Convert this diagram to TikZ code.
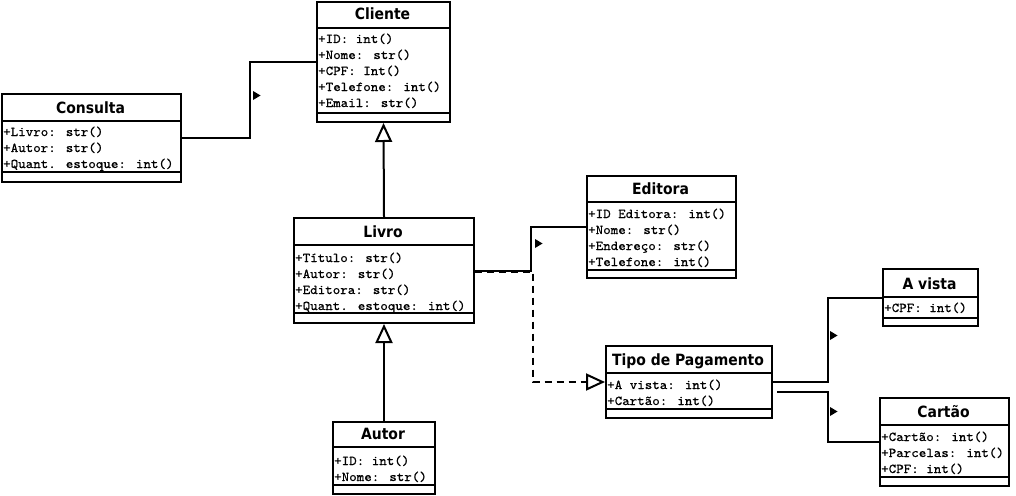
\documentclass[tikz,border=0pt]{standalone}
\usepackage{fontspec}
\newfontfamily\titlefont{DejaVu Sans}[FakeStretch=0.9]
\newfontfamily\attrfont{lmmono10-regular.otf}[FakeBold=0.6,FakeStretch=1.06]
\usetikzlibrary{arrows.meta}
\tikzset{
  x=1pt,y=-1pt,
  classbox/.style={draw=black,line width=2pt,inner sep=0pt,fill=white},
  sepline/.style={draw=black,line width=2pt},
  ctitle/.style={font=\titlefont\bfseries\fontsize{15.5}{16}\selectfont,anchor=base,inner sep=0pt},
  cattr/.style={font=\attrfont\fontsize{13.5}{16}\selectfont,anchor=base west,inner sep=0pt},
  assoc/.style={draw=black,line width=2pt},
  inherit/.style={draw=black,line width=2pt,-{Triangle[open,length=19pt,width=17pt,line width=2pt]}},
  realize/.style={draw=black,line width=2pt,dash pattern=on 7pt off 5pt,-{Triangle[open,length=19pt,width=17pt,line width=2pt]}},
  dirmark/.style={fill=black},
}
% \umlbox{name}{x1}{y1}{x2}{y2}{titlesep}{sectionend}{title}
\newcommand\umlbox[8]{%
  \node[classbox,anchor=north west,minimum width=#4-#2,minimum height=#5-#3] (#1) at (#2,#3) {};
  \draw[sepline] (#2,#6) -- (#4,#6);
  \draw[sepline] (#2,#7) -- (#4,#7);
  \node[ctitle] (#1-title) at ({(#2+#4)/2},#6-8) {#8};
}
\newcommand\umlattr[4]{% name, x, y, text
  \node[cattr] (#1) at (#2,#3) {#4};
}
\begin{document}
\begin{tikzpicture}
\useasboundingbox (0,0) rectangle (1016,495);
\fill[white] (0,0) rectangle (1016,495);

% Cliente
\umlbox{cliente}{316}{1}{449}{121}{28}{113}{Cliente}
\umlattr{cl1}{318}{43}{+ID: int()}
\umlattr{cl2}{318}{59}{+Nome: str()}
\umlattr{cl3}{318}{75}{+CPF: Int()}
\umlattr{cl4}{318}{91}{+Telefone: int()}
\umlattr{cl5}{318}{107}{+Email: str()}

% Consulta
\umlbox{consulta}{1}{93}{180}{181}{121}{172}{Consulta}
\umlattr{co1}{3}{136}{+Livro: str()}
\umlattr{co2}{3}{152}{+Autor: str()}
\umlattr{co3}{3}{168}{+Quant. estoque: int()}

% Livro
\umlbox{livro}{293}{217}{473}{322}{245}{313}{Livro}
\umlattr{li1}{295}{262}{+Título: str()}
\umlattr{li2}{295}{278}{+Autor: str()}
\umlattr{li3}{295}{294}{+Editora: str()}
\umlattr{li4}{295}{310}{+Quant. estoque: int()}

% Editora
\umlbox{editora}{586}{175}{735}{277}{202}{270}{Editora}
\umlattr{ed1}{588}{218}{+ID Editora: int()}
\umlattr{ed2}{588}{234}{+Nome: str()}
\umlattr{ed3}{588}{250}{+Endereço: str()}
\umlattr{ed4}{588}{266}{+Telefone: int()}

% Autor
\umlbox{autor}{332}{421}{434}{493}{447}{485}{Autor}
\umlattr{au1}{334}{465}{+ID: int()}
\umlattr{au2}{334}{481}{+Nome: str()}

% Tipo de Pagamento
\umlbox{tipo}{605}{345}{771}{417}{373}{409}{Tipo de Pagamento}
\umlattr{tp1}{607}{389}{+A vista: int()}
\umlattr{tp2}{607}{405}{+Cartão: int()}

% A vista
\umlbox{avista}{882}{268}{977}{325}{297}{318}{A vista}
\umlattr{av1}{884}{312}{+CPF: int()}

% Cartao
\umlbox{cartao}{879}{397}{1008}{485}{425}{477}{Cartão}
\umlattr{ca1}{881}{441}{+Cartão: int()}
\umlattr{ca2}{881}{457}{+Parcelas: int()}
\umlattr{ca3}{881}{473}{+CPF: int()}

% connectors
\draw[assoc] (consulta.east) -- ++(68,0) |- (cliente.west);
\draw[inherit] (livro.north) -- (cliente.south);
\draw[inherit] (autor.north) -- (livro.south);
\draw[assoc] (livro.east) -- ++(56,0) |- (editora.west);
\draw[realize] ([yshift=-1]livro.east) -- ++(58,0) |- (tipo.west);
\draw[assoc] (tipo.east) -- ++(55,0) |- (avista.west);
\draw[assoc] ([xshift=4,yshift=-10]tipo.east) -- ++(51,0) |- (cartao.west);

% direction markers
\coordinate (m1) at (253,91);
\fill[dirmark] (m1) -- ++(7.5,4.5) -- ++(-7.5,4.5) -- cycle;
\coordinate (m2) at (535,239);
\fill[dirmark] (m2) -- ++(7.5,4.5) -- ++(-7.5,4.5) -- cycle;
\coordinate (m3) at (830,331);
\fill[dirmark] (m3) -- ++(7.5,4.5) -- ++(-7.5,4.5) -- cycle;
\coordinate (m4) at (830,407);
\fill[dirmark] (m4) -- ++(7.5,4.5) -- ++(-7.5,4.5) -- cycle;
\end{tikzpicture}
\end{document}
